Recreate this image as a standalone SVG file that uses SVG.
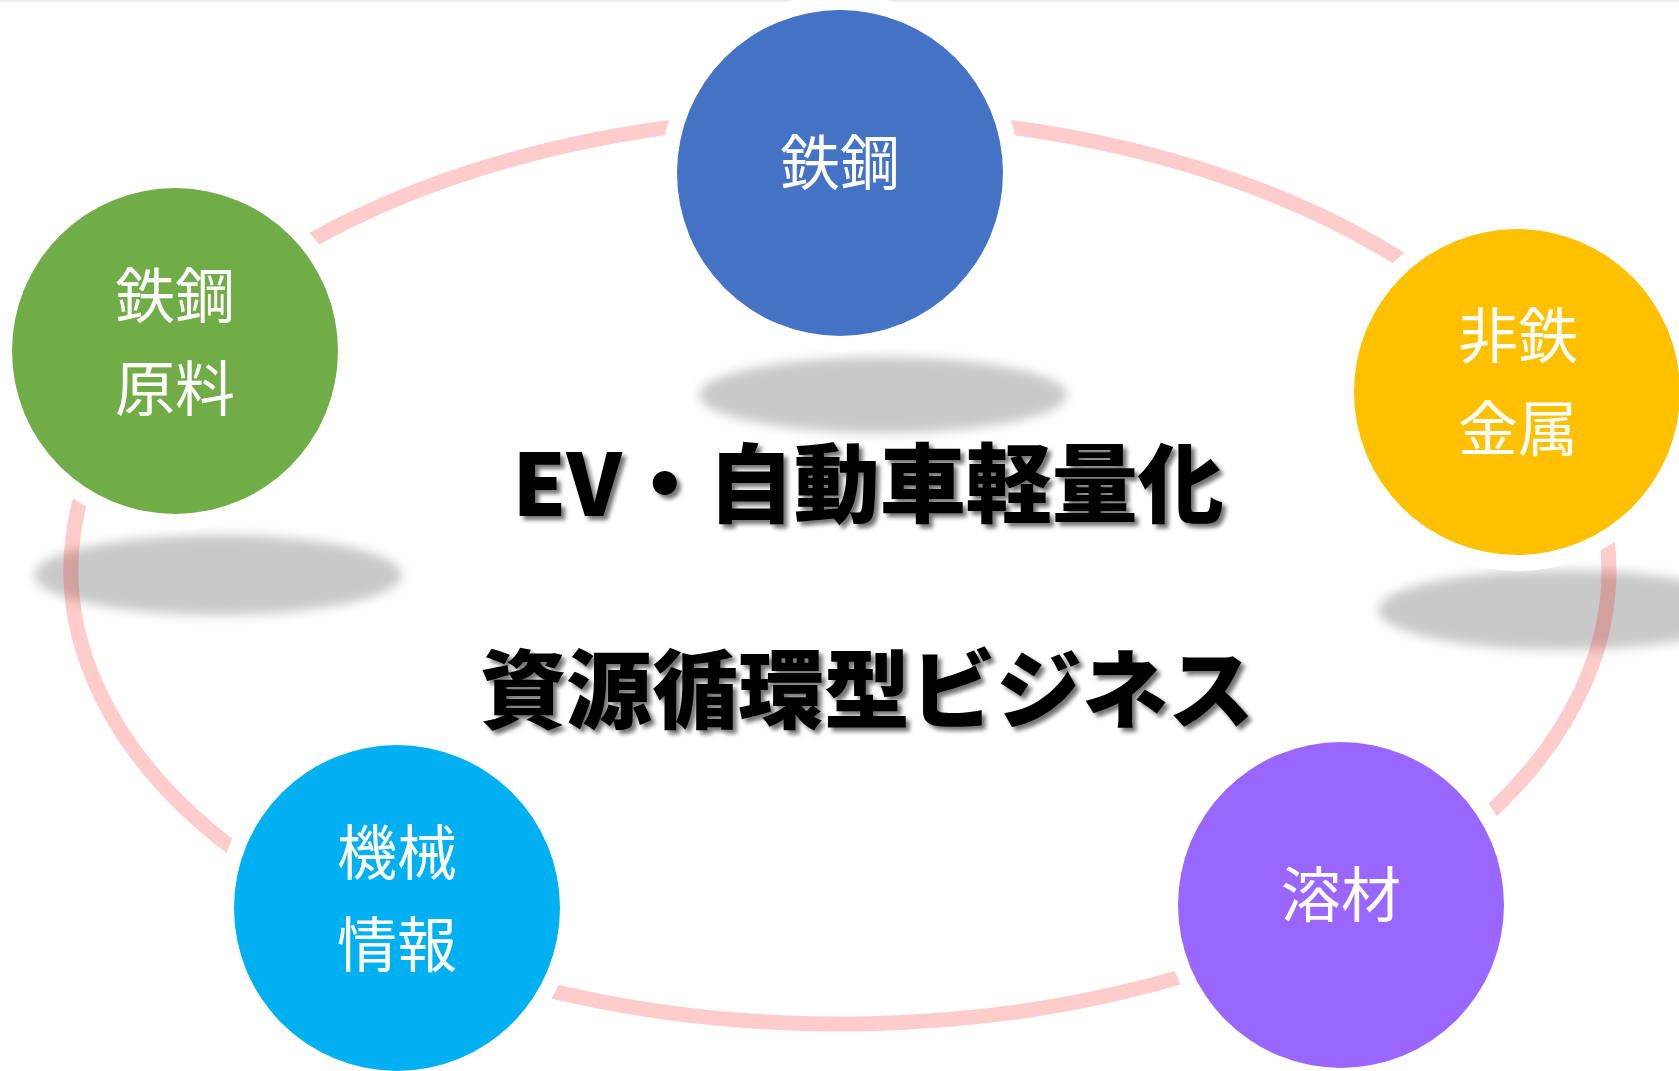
<svg xmlns="http://www.w3.org/2000/svg" width="1679" height="1071" viewBox="0 0 1679 1071">
  <defs>
    <filter id="blur" x="-20%" y="-60%" width="140%" height="220%">
      <feGaussianBlur stdDeviation="5.5"/>
    </filter>
    <filter id="tshadow" x="-10%" y="-30%" width="120%" height="160%">
      <feDropShadow dx="4" dy="4" stdDeviation="2" flood-color="#000" flood-opacity="0.55"/>
    </filter>
    <style>
      .shadow { fill: #c9c9c9; filter: url(#blur); }
      .ring { fill: none; stroke: #ff0000; stroke-opacity: 0.2; stroke-width: 15; }
      .halo { fill: #ffffff; }
      .label { font-family: "Noto Sans CJK JP", "Noto Sans", sans-serif; font-size: 60px; fill: #ffffff; text-anchor: middle; }
      .title { font-family: "Noto Sans CJK JP", "Noto Sans", sans-serif; font-size: 86px; font-weight: 900; fill: #000000; text-anchor: middle; filter: url(#tshadow); }
    </style>
  </defs>
  <rect x="0" y="0" width="1679" height="1071" fill="#ffffff"/>
  <rect x="0" y="0" width="1679" height="2" fill="#eeeeee"/>

  <g id="shadows">
    <ellipse class="shadow" cx="883" cy="395" rx="184" ry="38"/>
    <ellipse class="shadow" cx="218" cy="575" rx="184" ry="40"/>
    <ellipse class="shadow" cx="1562" cy="610" rx="184" ry="40"/>
  </g>

  <g id="connectors">
    <path class="ring" d="M301,246.2 A769,454 0 0 1 686.7,125.1"/>
    <path class="ring" d="M993.3,125.1 A769,454 0 0 1 1411.4,266.2"/>
    <path class="ring" d="M1606.6,534.4 A769,454 0 0 1 1482,819.9"/>
    <path class="ring" d="M1195,972.7 A769,454 0 0 1 535.9,987"/>
    <path class="ring" d="M242.4,855.7 A769,454 0 0 1 82.7,491.2"/>
  </g>

  <g id="node-steel">
    <circle class="halo" cx="840" cy="173" r="179"/>
    <circle cx="840" cy="173" r="163" fill="#4472C4"/>
    <text class="label" x="840" y="185">鉄鋼</text>
  </g>

  <g id="node-nonferrous">
    <circle class="halo" cx="1517" cy="392" r="179"/>
    <circle cx="1517" cy="392" r="163" fill="#FFC000"/>
    <text class="label" x="1518" y="358">非鉄</text>
    <text class="label" x="1518" y="451">金属</text>
  </g>

  <g id="node-welding">
    <circle class="halo" cx="1341" cy="905" r="179"/>
    <circle cx="1341" cy="905" r="163" fill="#9966FF"/>
    <text class="label" x="1341" y="917">溶材</text>
  </g>

  <g id="node-machinery">
    <circle class="halo" cx="397" cy="908" r="179"/>
    <circle cx="397" cy="908" r="163" fill="#00B0F0"/>
    <text class="label" x="397" y="875">機械</text>
    <text class="label" x="397" y="967">情報</text>
  </g>

  <g id="node-raw">
    <circle class="halo" cx="175" cy="351" r="179"/>
    <circle cx="175" cy="351" r="163" fill="#70AD47"/>
    <text class="label" x="175" y="318">鉄鋼</text>
    <text class="label" x="175" y="411">原料</text>
  </g>

  <g id="title">
    <text class="title" x="868" y="516">EV・自動車軽量化</text>
    <text class="title" x="867" y="722">資源循環型ビジネス</text>
  </g>
</svg>
